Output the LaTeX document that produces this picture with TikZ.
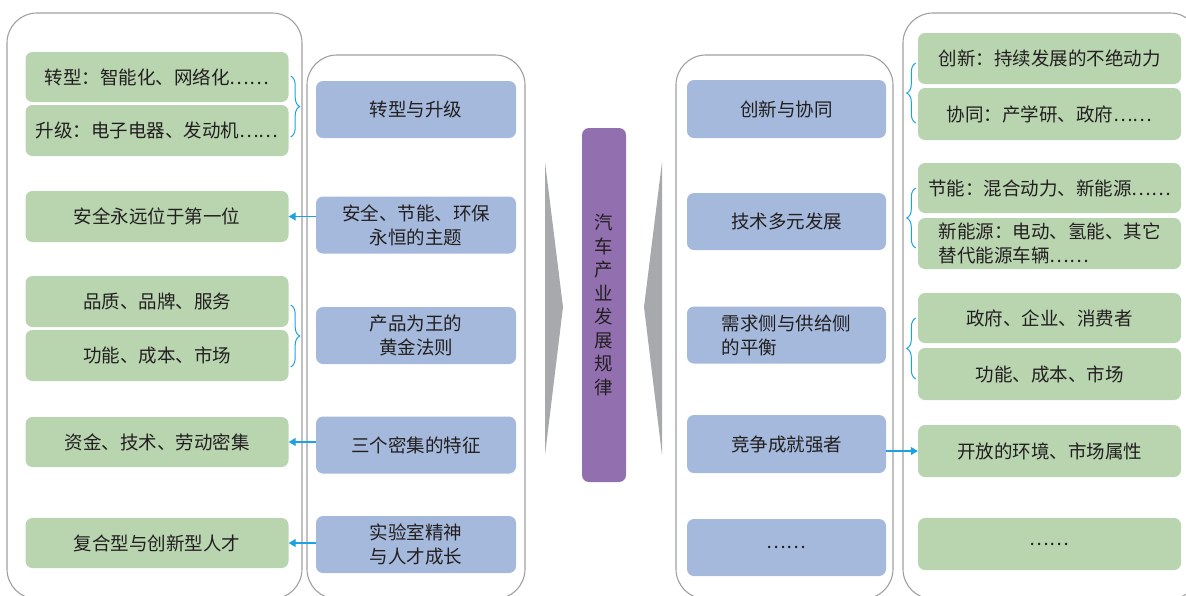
\documentclass[tikz,border=0pt]{standalone}
\usepackage{fontspec}
\setmainfont{Noto Sans CJK SC}
\usetikzlibrary{decorations.pathreplacing,arrows.meta,calc}
\definecolor{boxgreen}{HTML}{B8D5B0}
\definecolor{boxblue}{HTML}{A4B9DB}
\definecolor{boxpurple}{HTML}{9270B0}
\definecolor{chevgray}{HTML}{A7A9AC}
\definecolor{panelgray}{HTML}{A0A0A0}
\definecolor{linkblue}{HTML}{1DA1E2}
\definecolor{txt}{HTML}{231F20}
\tikzset{
  panel/.style={draw=panelgray, line width=1.1pt, rounded corners=30pt},
  gbox/.style={fill=boxgreen, rounded corners=7pt, minimum width=263pt, minimum height=51pt, inner sep=0pt, align=center, text=txt},
  bbox/.style={fill=boxblue, rounded corners=7pt, minimum width=200pt, minimum height=57pt, inner sep=0pt, align=center, text=txt},
  chev/.style={fill=chevgray, draw=none},
  linkarrow/.style={draw=linkblue, line width=1.1pt, -{Triangle[length=7pt,width=8pt]}},
  bracelink/.style={draw=linkblue, line width=1pt, decorate, decoration={brace, amplitude=9pt}},
}
\begin{document}
\begin{tikzpicture}[x=1pt,y=-1pt, font=\fontsize{18.5}{24}\selectfont]
\clip (0,0) rectangle (1186,595);
% panels
\draw[panel] (7,13) rectangle (302,599);
\draw[panel] (307,55) rectangle (525,599);
\draw[panel] (676,55) rectangle (893,599);
\draw[panel] (903,13) rectangle (1200,599);
% left green boxes
\node[gbox, minimum height=50pt] (g1) at (157,77) {转型：智能化、网络化……};
\node[gbox] (g2) at (157,130.5) {升级：电子电器、发动机……};
\node[gbox] (g3) at (157,216.5) {安全永远位于第一位};
\node[gbox] (g4) at (157,301.5) {品质、品牌、服务};
\node[gbox] (g5) at (157,355.5) {功能、成本、市场};
\node[gbox, minimum height=50pt] (g6) at (157,442) {资金、技术、劳动密集};
\node[gbox, minimum height=50pt] (g7) at (157,543) {复合型与创新型人才};
% left blue boxes
\node[bbox] (b1) at (416,109.5) {转型与升级};
\node[bbox] (b2) at (416,225) {安全、节能、环保\\永恒的主题};
\node[bbox] (b3) at (416,335.5) {产品为王的\\黄金法则};
\node[bbox] (b4) at (416,445) {三个密集的特征};
\node[bbox] (b5) at (416,544.5) {实验室精神\\与人才成长};
% center
\fill[chev] (545,162) -- (563,307) -- (545,455) -- cycle;
\fill[chev] (662,162) -- (644,307) -- (662,455) -- cycle;
\node[fill=boxpurple, rounded corners=7pt, minimum width=44pt, minimum height=354pt, inner sep=0pt, align=center, text=txt, font=\fontsize{18.5}{23.5}\selectfont] (law) at (604,305) {汽\\车\\产\\业\\发\\展\\规\\律};
% right blue boxes
\node[bbox, minimum width=199pt, minimum height=58pt] (r1) at (786.5,109) {创新与协同};
\node[bbox, minimum width=199pt] (r2) at (786.5,221.5) {技术多元发展};
\node[bbox, minimum width=199pt, align=left] (r3) at (786.5,335) {需求侧与供给侧\\的平衡};
\node[bbox, minimum width=199pt, minimum height=58pt] (r4) at (786.5,444) {竞争成就强者};
\node[bbox, minimum width=199pt] (r5) at (786.5,547.5) {……};
% right green boxes
\node[gbox] (s1) at (1049.5,58.5) {创新：持续发展的不绝动力};
\node[gbox, minimum height=52pt] (s2) at (1049.5,114) {协同：产学研、政府……};
\node[gbox, minimum height=50pt] (s3) at (1049.5,188) {节能：混合动力、新能源……};
\node[gbox, align=left] (s4) at (1049.5,243.5) {新能源：电动、氢能、其它\\替代能源车辆……};
\node[gbox, minimum height=50pt] (s5) at (1049.5,318) {政府、企业、消费者};
\node[gbox, minimum height=52pt] (s6) at (1049.5,374) {功能、成本、市场};
\node[gbox, minimum height=52pt] (s7) at (1049.5,451) {开放的环境、市场属性};
\node[gbox, minimum height=52pt] (s8) at (1049.5,544) {……};
% braces
\draw[bracelink] ($(g1.east)+(2,-1)$) -- ($(g2.east)+(2,6.5)$);
\draw[bracelink] ($(g4.east)+(2,3.5)$) -- ($(g5.east)+(2,11.5)$);
\draw[bracelink] ($(s2.west)+(-2,9)$) -- ($(s1.west)+(-2,4.5)$);
\draw[bracelink] ($(s4.west)+(-2,4.5)$) -- ($(s3.west)+(-2,0)$);
\draw[bracelink] ($(s6.west)+(-2,5)$) -- ($(s5.west)+(-2,0)$);
% arrows
\draw[linkarrow] (b2.west |- g3.east) -- (g3.east);
\draw[linkarrow] (b4.west |- g6.east) -- (g6.east);
\draw[linkarrow] (b5.west |- g7.east) -- (g7.east);
\draw[linkarrow] (r4.east |- s7.west) -- (s7.west);
\end{tikzpicture}
\end{document}
